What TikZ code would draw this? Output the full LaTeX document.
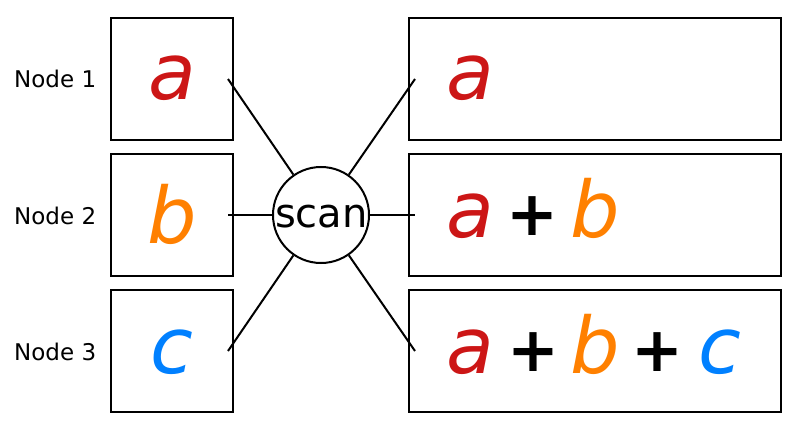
\documentclass[tikz,border=0pt]{standalone}
\usepackage{fontspec}
\setmainfont{DejaVu Sans}
\definecolor{cred}{RGB}{204,22,22}
\definecolor{corange}{RGB}{255,128,0}
\definecolor{cblue}{RGB}{0,128,255}
\tikzset{
  cell/.style={draw=black, line width=2pt, minimum height=122pt, inner sep=0pt},
  lcell/.style={cell, minimum width=122pt},
  rcell/.style={cell, minimum width=372pt},
  var/.style={font=\fontsize{78}{90}\selectfont\itshape, inner sep=0pt},
  plus/.style={font=\fontsize{62}{70}\selectfont\bfseries, inner sep=0pt},
  lbl/.style={font=\fontsize{23}{28}\selectfont, inner sep=0pt, anchor=base west},
  link/.style={line width=2pt},
  scanc/.style={circle, draw=black, line width=2pt, minimum size=96pt, inner sep=0pt}
}
\begin{document}
\begin{tikzpicture}[x=1pt,y=1pt]
\useasboundingbox (0,0) rectangle (800,432);
% left boxes
\node[lcell] (l1) at (172,353) {};
\node[lcell] (l2) at (172,217) {};
\node[lcell] (l3) at (172,81) {};
% right boxes
\node[rcell] (r1) at (595,353) {};
\node[rcell] (r2) at (595,217) {};
\node[rcell] (r3) at (595,81) {};
% labels
\node[lbl] (n1) at (14,344) {Node 1};
\node[lbl] (n2) at (14,208) {Node 2};
\node[lbl] (n3) at (14,72) {Node 3};
% left contents
\node[var, text=cred, anchor=base] (la) at (172,332) {a};
\node[var, text=corange, anchor=base] (lb) at (172,189) {b};
\node[var, text=cblue, anchor=base] (lc) at (172,59) {c};
% right contents
\node[var, text=cred, anchor=base] (ra1) at (470,332) {a};
\node[var, text=cred, anchor=base] (ra2) at (470,195) {a};
\node[plus] (rp2) at (532,216) {+};
\node[var, text=corange, anchor=base] (rb2) at (595,195) {b};
\node[var, text=cred, anchor=base] (ra3) at (470,59) {a};
\node[plus] (rp3a) at (533,80) {+};
\node[var, text=corange, anchor=base] (rb3) at (595,59) {b};
\node[plus] (rp3b) at (657,80) {+};
\node[var, text=cblue, anchor=base] (rc3) at (720,59) {c};
% scan
\node[scanc] (scan) at (321,217) {};
\node[font=\fontsize{40}{48}\selectfont, inner sep=0pt, anchor=base] (scant) at (321.5,205) {scan};
% connector ends
\coordinate (e1) at (228,353);
\coordinate (e2) at (228,217);
\coordinate (e3) at (228,81);
\coordinate (f1) at (415,353);
\coordinate (f2) at (415,217);
\coordinate (f3) at (415,81);
\draw[link] (e1) -- (scan);
\draw[link] (e2) -- (scan);
\draw[link] (e3) -- (scan);
\draw[link] (scan) -- (f1);
\draw[link] (scan) -- (f2);
\draw[link] (scan) -- (f3);
\end{tikzpicture}
\end{document}
